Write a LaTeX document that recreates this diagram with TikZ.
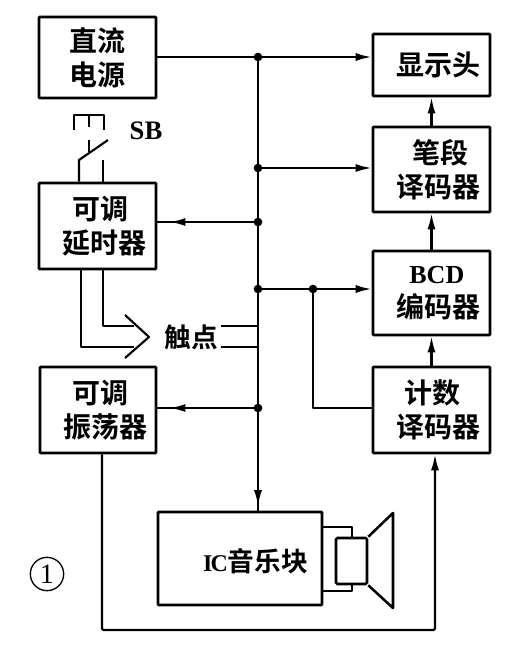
\documentclass[tikz,border=0pt]{standalone}
\usepackage{fontspec}
\usetikzlibrary{arrows.meta,decorations.markings,calc}
\setmainfont{Liberation Serif}
\newfontfamily\cjkf{Noto Sans CJK SC}[BoldFont={* Bold}]
\newcommand{\tsh}[1]{\hspace*{#1pt}}
\tikzset{
  wire/.style={line width=1.6pt,line join=round},
  blockbox/.style={draw,line width=1.9pt,align=center,inner sep=0pt,font=\cjkf\bfseries\fontsize{21}{25.5}\selectfont,rounded corners=0.5pt},
  jdot/.style={circle,fill=black,inner sep=0pt,minimum size=6.5pt},
  tipend/.style={-{Latex[length=12pt,width=6pt]}},
  tipat/.style={postaction={decorate},decoration={markings,mark=at position #1 with {\arrow{Latex[length=12pt,width=6pt]}}}},
}
\begin{document}
\begin{tikzpicture}[x=0.75pt,y=-0.75pt]
\useasboundingbox (0,0) rectangle (514,658);
% blocks
\node[blockbox,minimum width=87.75pt,minimum height=60.75pt] (power) at (97.5,57.5) {直流\\电源};
\node[blockbox,minimum width=87.75pt,minimum height=64.5pt] (delay) at (97.5,226) {\tsh{4}可调\\\tsh{10}延时器};
\node[blockbox,minimum width=87pt,minimum height=64.5pt] (osc) at (98,410) {\tsh{4}可调\\\tsh{12}振荡器};
\node[blockbox,minimum width=87.75pt,minimum height=46.5pt] (disp) at (431.5,65) {\tsh{10}显示头};
\node[blockbox,minimum width=87.75pt,minimum height=63.75pt] (seg) at (431.5,169.5) {\tsh{14}笔段\\\tsh{11}译码器};
\node[blockbox,minimum width=87.75pt,minimum height=63pt] (bcd) at (431.5,293) {\tsh{8}{\rmfamily\bfseries\fontsize{19.5}{25.5}\selectfont BCD}\\\tsh{10}编码器};
\node[blockbox,minimum width=123pt,minimum height=69.75pt] (ic) at (240,558.5) {};
\node[blockbox,minimum width=87.75pt,minimum height=64.5pt] (cnt) at (431.5,410) {\tsh{1}计数\\\tsh{11}译码器};
\node[font=\cjkf\bfseries\fontsize{20}{26}\selectfont] (iclabel) at (255.5,561) {{\rmfamily\bfseries\fontsize{18}{26}\selectfont I\kern-1.5pt C}音乐块};
% bus
\coordinate (j1) at (258,57);
\coordinate (j2) at (258,168);
\coordinate (j3) at (258,222);
\coordinate (j4) at (258,289);
\coordinate (j5) at (258,408);
\coordinate (j6) at (313,289);
\draw[wire,tipat=0.99] (j1) -- (j1 |- ic.north);
\draw[wire] (power.east |- j1) -- (j1);
\draw[wire,tipend] (j1) -- (disp.west |- j1);
\draw[wire,tipend] (j2) -- (seg.west |- j2);
\draw[wire,tipat=0.88] (j3) -- (delay.east |- j3);
\draw[wire,tipend] (j4) -- (bcd.west |- j4);
\draw[wire,tipat=0.88] (j5) -- (osc.east |- j5);
\draw[wire] (j6) |- (cnt.west |- j5);
\foreach \j in {j1,j2,j3,j4,j5,j6} \node[jdot] at (\j) {};
% vertical links
\draw[wire,tipend] (seg.north) -- (disp.south);
\draw[wire,tipend] (bcd.north) -- (seg.south);
\draw[wire,tipend] (cnt.north) -- (bcd.south);
% bottom loop
\coordinate (bl) at (102,630);
\coordinate (br) at (435,630);
\draw[wire,tipend,rounded corners=1pt] (osc.south -| bl) -- (bl) -- (br) -- (cnt.south -| br);
% switch
\node[font=\rmfamily\bfseries\fontsize{20}{24}\selectfont] (sb) at (146,131) {SB};
\coordinate (s1) at (79,160);
\coordinate (s2) at (103,160);
\coordinate (s3) at (108,140);
\draw[wire] (delay.north -| s1) -- (s1) -- (s3);
\draw[wire] (delay.north -| s2) -- (s2);
\draw[wire] (74,130) -- (74,115) -- (104,115) -- (104,130);
\draw[wire] (89,115) -- (89,127);
\draw[wire] (89,140) -- (89,152);
% contact
\coordinate (c1) at (81,347);
\coordinate (c2) at (103,326);
\coordinate (ct) at (149,337);
\node[font=\cjkf\bfseries\fontsize{20}{24}\selectfont,inner sep=2pt] (contact) at (191.5,337) {触点};
\draw[wire] (delay.south -| c1) -- (c1) -- (134,347);
\draw[wire] (delay.south -| c2) -- (c2) -- (134,326);
\draw[wire] (125,315) -- (ct) -- (125,358);
\draw[wire] (contact.east |- c2) -- (j1 |- c2);
\draw[wire] (contact.east |- c1) -- (j1 |- c1);
% speaker
\node[draw,line width=1.9pt,rounded corners=1pt,minimum width=23.25pt,minimum height=34.5pt,inner sep=0pt] (coil) at (351.5,561) {};
\coordinate (a1) at (352,527);
\coordinate (a2) at (352,591);
\draw[wire] (ic.east |- a1) -- (a1) -- (a1 |- coil.north);
\draw[wire] (ic.east |- a2) -- (a2) -- (a2 |- coil.south);
\draw[line width=1.9pt,line join=round] (coil.north east) -- (393,513) -- (393,608) -- (coil.south east);
% number
\node[draw,circle,line width=1pt,minimum size=25pt,inner sep=0pt,font=\rmfamily\fontsize{21}{24}\selectfont] (num) at (47,574) {1};
\end{tikzpicture}
\end{document}
